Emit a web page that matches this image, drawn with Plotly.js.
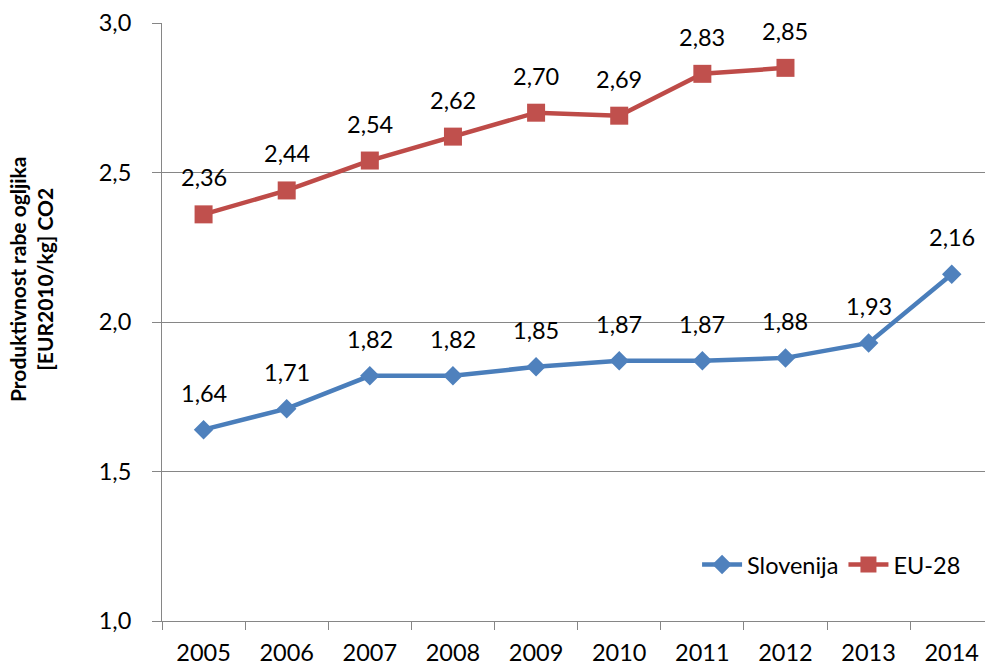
<!DOCTYPE html>
<html>
<head>
<meta charset="utf-8">
<script src="https://cdn.plot.ly/plotly-3.0.1.min.js"></script>
<style>
  html, body { margin: 0; padding: 0; background: #ffffff; overflow: hidden; }
  #chart { width: 985px; height: 665px; }
</style>
</head>
<body>
<div id="chart"></div>
<script>
// Carbon productivity, Slovenia vs EU-28
const years = ['2005', '2006', '2007', '2008', '2009', '2010', '2011', '2012', '2013', '2014'];
const slovenija = [1.64, 1.71, 1.82, 1.82, 1.85, 1.87, 1.87, 1.88, 1.93, 2.16];
const eu28 = [2.36, 2.44, 2.54, 2.62, 2.70, 2.69, 2.83, 2.85, null, null];
const yTicks = [1.0, 1.5, 2.0, 2.5, 3.0];

const FONT = 'Lato, sans-serif';
const BLUE = '#4A7EBB';
const BLUE_FILL = '#4F81BD';
const RED = '#BE4B48';
const RED_FILL = '#C0504D';
const GRID = '#868686';
const FS = 23.5;

const fmt = v => v.toFixed(2).replace('.', ',');

const traces = [
  {
    type: 'scatter', mode: 'lines+markers', name: 'Slovenija',
    x: years, y: slovenija,
    line: { color: BLUE, width: 4.5 },
    marker: { symbol: 'diamond', size: 15, color: BLUE_FILL, line: { width: 0 } }
  },
  {
    type: 'scatter', mode: 'lines+markers', name: 'EU-28',
    x: years, y: eu28,
    line: { color: RED, width: 4.5 },
    marker: { symbol: 'square', size: 18, color: RED_FILL, line: { width: 0 } }
  }
];

// value labels above each point (x given as category index)
const annotations = [];
[slovenija, eu28].forEach(series => {
  series.forEach((v, i) => {
    if (v === null) return;
    annotations.push({
      x: i, y: v, xref: 'x', yref: 'y',
      text: fmt(v), showarrow: false, yshift: 37,
      font: { family: FONT, size: FS, color: '#000000' }
    });
  });
});

// two-line rotated axis title
annotations.push({
  xref: 'paper', yref: 'paper', x: 0, y: (621 - 279) / 598,
  xshift: -131, xanchor: 'center', yanchor: 'middle',
  text: '<b>Produktivnost rabe ogljika</b><br><b>[EUR2010/kg] CO2</b>',
  textangle: -90, showarrow: false,
  font: { family: FONT, size: 21, color: '#000000', weight: 700 }
});

const layout = {
  width: 985, height: 665,
  margin: { l: 162, r: 0, t: 23, b: 44 },
  paper_bgcolor: '#ffffff', plot_bgcolor: '#ffffff',
  separators: ',.',
  font: { family: FONT, size: FS, color: '#000000' },
  showlegend: true,
  legend: {
    orientation: 'h', x: 0.977, xanchor: 'right', y: 0.094, yanchor: 'middle',
    font: { family: FONT, size: FS, color: '#000000' },
    bgcolor: 'rgba(0,0,0,0)', itemwidth: 40, traceorder: 'normal'
  },
  xaxis: {
    type: 'category', range: [-0.5, 9.4],
    tickson: 'boundaries', ticks: 'outside', ticklen: 8, tickcolor: GRID, tickwidth: 1,
    showline: true, linecolor: GRID, linewidth: 1,
    showgrid: false, zeroline: false,
    tickfont: { family: FONT, size: FS, color: '#000000' },
    ticklabelstandoff: 11
  },
  yaxis: {
    range: [1.0, 3.0], tickvals: yTicks, tickformat: '.1f',
    ticks: 'outside', ticklen: 9, tickcolor: GRID, tickwidth: 1,
    showline: true, linecolor: GRID, linewidth: 1,
    showgrid: true, gridcolor: GRID, gridwidth: 1, zeroline: false,
    tickfont: { family: FONT, size: FS, color: '#000000' },
    ticklabelstandoff: 16
  },
  annotations: annotations
};

Plotly.newPlot('chart', traces, layout, { displayModeBar: false, staticPlot: true });
</script>
</body>
</html>
